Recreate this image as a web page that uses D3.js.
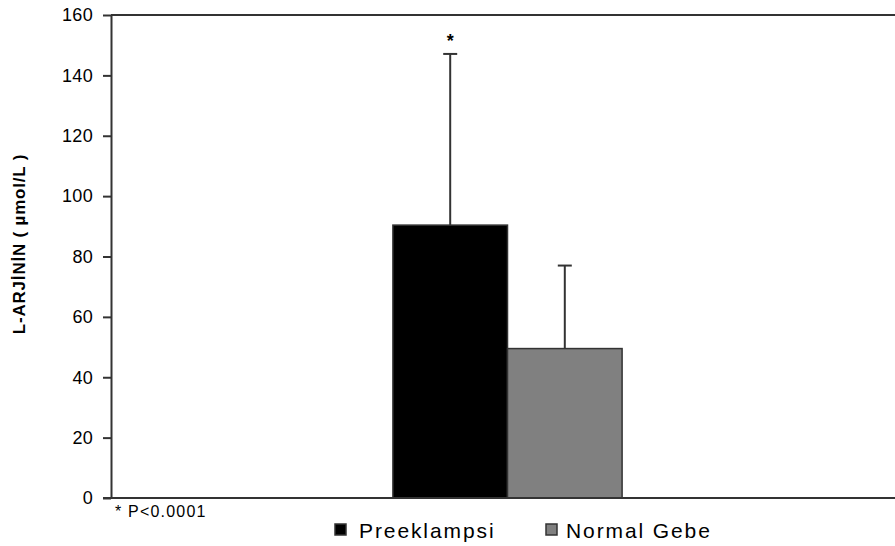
<!DOCTYPE html>
<html>
<head>
<meta charset="utf-8">
<script src="https://cdn.jsdelivr.net/npm/d3@7"></script>
<style>
  body { margin: 0; background: #fff; }
  text { font-family: "Liberation Sans", Arial, sans-serif; fill: #000; }
</style>
</head>
<body>
<svg id="chart"></svg>
<script>
// Data
const groups = [""];
const seriesNames = ["Preeklampsi", "Normal Gebe"];
const means = [90.4, 49.5];
const errors = [56.7, 27.5];
const sigMarks = ["*", ""];
const yTicks = [0, 20, 40, 60, 80, 100, 120, 140, 160];
const colors = ["#000000", "#808080"];

const width = 895, height = 546;
const plotLeft = 111, plotTop = 15, plotBottom = 498, plotRight = 904;

const svg = d3.select("#chart")
    .attr("width", width)
    .attr("height", height);

// Scales
const y = d3.scaleLinear().domain([0, 160]).range([plotBottom, plotTop]);

const x0 = d3.scaleBand()
    .domain(groups)
    .range([plotLeft, plotRight])
    .paddingInner(0)
    .paddingOuter(1.23);

const x1 = d3.scaleBand()
    .domain(seriesNames)
    .range([0, x0.bandwidth()]);

// Top border of the plot area
svg.append("line")
    .attr("x1", plotLeft).attr("x2", width)
    .attr("y1", plotTop).attr("y2", plotTop)
    .attr("stroke", "#333").attr("stroke-width", 2);

// Bars
const g = svg.append("g").attr("transform", `translate(${x0("")},0)`);

g.selectAll("rect")
    .data(seriesNames)
    .enter()
    .append("rect")
    .attr("x", d => x1(d))
    .attr("y", (d, i) => y(means[i]))
    .attr("width", x1.bandwidth())
    .attr("height", (d, i) => y(0) - y(means[i]))
    .attr("fill", (d, i) => colors[i])
    .attr("stroke", "#333")
    .attr("stroke-width", 1.5);

// Error bars (upper only)
const err = g.selectAll("g.err")
    .data(seriesNames)
    .enter()
    .append("g")
    .attr("class", "err");

err.append("line")
    .attr("x1", d => x1(d) + x1.bandwidth() / 2)
    .attr("x2", d => x1(d) + x1.bandwidth() / 2)
    .attr("y1", (d, i) => y(means[i]))
    .attr("y2", (d, i) => y(means[i] + errors[i]))
    .attr("stroke", "#333").attr("stroke-width", 2);

err.append("line")
    .attr("x1", d => x1(d) + x1.bandwidth() / 2 - 7)
    .attr("x2", d => x1(d) + x1.bandwidth() / 2 + 7)
    .attr("y1", (d, i) => y(means[i] + errors[i]))
    .attr("y2", (d, i) => y(means[i] + errors[i]))
    .attr("stroke", "#333").attr("stroke-width", 2);

err.append("text")
    .attr("x", d => x1(d) + x1.bandwidth() / 2)
    .attr("y", (d, i) => y(means[i] + errors[i]) - 7)
    .attr("text-anchor", "middle")
    .style("font-size", "18px")
    .style("font-weight", "bold")
    .text((d, i) => sigMarks[i]);

// Y axis
const yAxis = svg.append("g")
    .attr("transform", `translate(${plotLeft},0)`)
    .call(d3.axisLeft(y).tickValues(yTicks).tickSize(8).tickPadding(10).tickSizeOuter(0));

yAxis.select(".domain").attr("stroke", "#333").attr("stroke-width", 2);
yAxis.selectAll(".tick line").attr("stroke", "#333").attr("stroke-width", 2);
yAxis.selectAll(".tick text")
    .style("font-size", "18px")
    .style("letter-spacing", "0.3px")
    .style("font-family", "'Liberation Sans', Arial, sans-serif");

// X axis baseline
svg.append("line")
    .attr("x1", plotLeft - 8).attr("x2", width)
    .attr("y1", y(0)).attr("y2", y(0))
    .attr("stroke", "#333").attr("stroke-width", 2);

// Y label
svg.append("text")
    .attr("transform", "translate(25,244) rotate(-90)")
    .attr("text-anchor", "middle")
    .style("font-size", "17px")
    .style("font-weight", "bold")
    .style("letter-spacing", "0.8px")
    .text("L-ARJİNİN ( µmol/L )");

// Footnote
svg.append("text")
    .attr("x", 115)
    .attr("y", 517)
    .style("font-size", "16px")
    .style("letter-spacing", "1.2px")
    .text("* P<0.0001");

// Legend
const legendBoxX = [335, 546];
const legendTextX = [359, 566];
const legend = svg.selectAll("g.legend")
    .data(seriesNames)
    .enter()
    .append("g")
    .attr("class", "legend");

legend.append("rect")
    .attr("x", (d, i) => legendBoxX[i])
    .attr("y", 524)
    .attr("width", 11).attr("height", 11)
    .attr("fill", (d, i) => colors[i])
    .attr("stroke", "#333").attr("stroke-width", 1.5);

legend.append("text")
    .attr("x", (d, i) => legendTextX[i])
    .attr("y", 538)
    .style("font-size", "21px")
    .style("letter-spacing", "1.9px")
    .text(d => d);
</script>
</body>
</html>
